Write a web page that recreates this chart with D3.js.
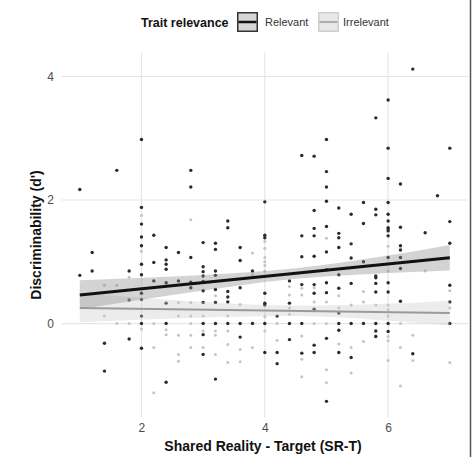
<!DOCTYPE html>
<html>
<head>
<meta charset="utf-8">
<script src="https://cdn.jsdelivr.net/npm/d3@7"></script>
<style>
  body { margin: 0; background: #fff; }
  text { font-family: "Liberation Sans", Arial, sans-serif; }
</style>
</head>
<body>
<div id="chart"></div>
<script>
// data: [SR-T, d']
var relevant = [
  [1.0, 2.17], [1.0, 0.78],
  [1.2, 1.15], [1.2, 0.85],
  [1.4, -0.32], [1.4, -0.77],
  [1.6, 2.48],
  [1.8, 0.85], [1.8, 0.38], [1.8, -0.25],
  [2.0, 2.98], [2.0, 1.88], [2.0, 1.61], [2.0, 1.40], [2.0, 1.26], [2.0, 0.96], [2.0, 0.79], [2.0, 0.49], [2.0, 0.39], [2.0, 0.12], [2.0, 0.0], [2.0, -0.40],
  [2.2, 1.43], [2.2, 0.99], [2.2, 0.69],
  [2.4, 1.23], [2.4, 1.03], [2.4, 0.96], [2.4, 0.88], [2.4, 0.66], [2.4, 0.33], [2.4, 0.0], [2.4, -0.95],
  [2.6, 1.15], [2.6, 0.69],
  [2.8, 2.48], [2.8, 2.21], [2.8, 1.07], [2.8, 0.67], [2.8, 0.58],
  [3.0, 1.31], [3.0, 0.92], [3.0, 0.84], [3.0, 0.77], [3.0, 0.68], [3.0, 0.53], [3.0, 0.34], [3.0, 0.0], [3.0, -0.18], [3.0, -0.50],
  [3.2, 1.30], [3.2, 1.20], [3.2, 0.85], [3.2, 0.78], [3.2, 0.55], [3.2, 0.34], [3.2, 0.0], [3.2, -0.90],
  [3.4, 1.66], [3.4, 1.55], [3.4, 0.52], [3.4, 0.43], [3.4, 0.35], [3.4, 0.0],
  [3.6, 1.23], [3.6, 1.02], [3.6, 0.58], [3.6, 0.0], [3.6, -0.22],
  [3.8, 0.85], [3.8, 0.0],
  [4.0, 1.97], [4.0, 1.43], [4.0, 1.39], [4.0, 0.49], [4.0, 0.33], [4.0, 0.30], [4.0, 0.0], [4.0, -0.47],
  [4.2, 0.12], [4.2, -0.47], [4.2, -0.65],
  [4.4, 0.69], [4.4, 0.33], [4.4, 0.0], [4.4, -0.26],
  [4.6, 2.72], [4.6, 1.42], [4.6, 1.08], [4.6, 0.63], [4.6, 0.0], [4.6, -0.48],
  [4.8, 2.71], [4.8, 1.83], [4.8, 1.54], [4.8, 1.42], [4.8, 1.09], [4.8, 0.63], [4.8, 0.49], [4.8, 0.23], [4.8, -0.35], [4.8, -0.47],
  [5.0, 2.98], [5.0, 2.46], [5.0, 2.21], [5.0, 1.98], [5.0, 1.57], [5.0, 1.16], [5.0, 0.87], [5.0, 0.66], [5.0, 0.50], [5.0, -0.24], [5.0, -1.26],
  [5.2, 1.87], [5.2, 1.46], [5.2, 1.39], [5.2, 1.23], [5.2, 0.79], [5.2, 0.57], [5.2, 0.17], [5.2, 0.0], [5.2, -0.11], [5.2, -0.47],
  [5.4, 1.77], [5.4, 1.29], [5.4, 1.06], [5.4, 0.65], [5.4, 0.0], [5.4, -0.55],
  [5.6, 1.96], [5.6, 1.62], [5.6, 1.0], [5.6, 0.0],
  [5.8, 3.33], [5.8, 1.85], [5.8, 1.76], [5.8, 0.77], [5.8, 0.74], [5.8, 0.65], [5.8, 0.51], [5.8, 0.0], [5.8, -0.12], [5.8, -0.21],
  [6.0, 3.62], [6.0, 2.84], [6.0, 2.35], [6.0, 1.96], [6.0, 1.77], [6.0, 1.66], [6.0, 1.55], [6.0, 1.53], [6.0, 1.50], [6.0, 1.42], [6.0, 1.07], [6.0, 0.66], [6.0, 0.51], [6.0, 0.0], [6.0, -0.13],
  [6.2, 2.26], [6.2, 1.56], [6.2, 1.26], [6.2, 1.19], [6.2, 1.07], [6.2, 0.89], [6.2, 0.36],
  [6.4, 4.12], [6.4, -0.49],
  [6.6, 1.47],
  [6.8, 2.07],
  [7.0, 2.84], [7.0, 1.65], [7.0, 1.30], [7.0, 0.62], [7.0, 0.35], [7.0, 0.0]
]

var irrelevant = [
  [1.4, 0.62], [1.4, 0.12],
  [1.6, 0.62], [1.6, 0.0],
  [1.8, 0.75], [1.8, 0.0],
  [2.0, 1.75], [2.0, 1.17], [2.0, -0.09],
  [2.2, 0.0], [2.2, -0.39], [2.2, -1.12],
  [2.4, -0.10], [2.4, -0.18],
  [2.6, 0.34], [2.6, 0.12], [2.6, -0.19], [2.6, -0.50], [2.6, -0.61],
  [2.8, 1.68], [2.8, 0.34], [2.8, 0.12], [2.8, 0.0], [2.8, -0.19], [2.8, -0.39],
  [3.0, 0.12], [3.0, -0.12], [3.0, -0.39],
  [3.2, 0.45], [3.2, -0.12], [3.2, -0.19], [3.2, -0.50],
  [3.4, 0.12], [3.4, -0.12], [3.4, -0.34], [3.4, -0.63],
  [3.6, 0.31], [3.6, -0.42], [3.6, -0.62],
  [3.8, 1.14], [3.8, 0.79], [3.8, -0.39],
  [4.0, 1.33], [4.0, 1.22], [4.0, 1.07], [4.0, 1.0], [4.0, 0.94], [4.0, 0.85], [4.0, 0.11], [4.0, -0.12],
  [4.2, 0.0], [4.2, -0.27],
  [4.4, 0.60], [4.4, 0.46], [4.4, 0.25], [4.4, 0.15],
  [4.6, 0.57], [4.6, 0.46], [4.6, -0.20], [4.6, -0.58], [4.6, -0.86],
  [4.8, 0.58], [4.8, 0.35], [4.8, 0.0],
  [5.0, 1.38], [5.0, 0.35], [5.0, 0.0], [5.0, -0.75], [5.0, -0.96],
  [5.2, 0.45], [5.2, 0.25], [5.2, -0.33],
  [5.4, 0.30], [5.4, -0.39], [5.4, -0.80],
  [5.6, 0.52], [5.6, 0.35], [5.6, -0.29],
  [5.8, 0.30], [5.8, -0.20],
  [6.0, 1.25], [6.0, 0.85], [6.0, 0.30], [6.0, 0.22], [6.0, 0.12], [6.0, -0.21], [6.0, -0.28], [6.0, -0.60],
  [6.2, 0.0], [6.2, -0.39], [6.2, -1.01],
  [6.4, -0.19], [6.4, -0.60],
  [6.6, 0.85],
  [7.0, 0.53], [7.0, 0.25], [7.0, -0.63]
]

// fitted lines and confidence bands
var fitX = [1, 7]
var relevantFit = [0.46, 1.065]
var irrelevantFit = [0.25, 0.17]
var bandX = [1, 2.5, 4.5, 6, 7]
var relevantLo = [0.23, 0.46, 0.725, 0.82, 0.86]
var relevantHi = [0.70, 0.76, 0.895, 1.10, 1.27]
var irrelevantLo = [0.02, 0.08, 0.12, 0.045, -0.03]
var irrelevantHi = [0.49, 0.38, 0.29, 0.32, 0.37]

var xTicks = [2, 4, 6]
var yTicks = [0, 2, 4]
var groups = ['Relevant', 'Irrelevant']

// svg dimensions
var w = 472,
    h = 457

var svg = d3.select('#chart')
    .append('svg')
    .attr('width', w)
    .attr('height', h)

// scale
var xscale = d3.scaleLinear()
    .domain([0.7, 7.3])
    .range([61.3, 468.3])

var yscale = d3.scaleLinear()
    .domain([-1.52, 4.39])
    .range([417.4, 52.4])

// grid
svg.append('g')
    .selectAll('line')
    .data(yTicks)
    .enter()
    .append('line')
    .attr('x1', xscale(0.7))
    .attr('x2', xscale(7.3))
    .attr('y1', d => yscale(d))
    .attr('y2', d => yscale(d))
    .attr('stroke', '#e6e6e6')
    .attr('stroke-width', 1.2)

svg.append('g')
    .selectAll('line')
    .data(xTicks)
    .enter()
    .append('line')
    .attr('x1', d => xscale(d))
    .attr('x2', d => xscale(d))
    .attr('y1', yscale(4.39))
    .attr('y2', yscale(-1.52))
    .attr('stroke', '#e6e6e6')
    .attr('stroke-width', 1.2)

// axis (labels only, no lines)
var xaxis = d3.axisBottom(xscale)
    .tickValues(xTicks)
    .tickFormat(d3.format('d'))
    .tickSize(0)
    .tickPadding(0)

var yaxis = d3.axisLeft(yscale)
    .tickValues(yTicks)
    .tickFormat(d3.format('d'))
    .tickSize(0)
    .tickPadding(0)

var gx = svg.append('g')
    .attr('transform', 'translate(0,423)')
    .call(xaxis)
gx.select('.domain').remove()
gx.selectAll('text').attr('font-size', 12).attr('fill', '#4d4d4d').attr('font-family', '"Liberation Sans", Arial, sans-serif')

var gy = svg.append('g')
    .attr('transform', 'translate(54,0)')
    .call(yaxis)
gy.select('.domain').remove()
gy.selectAll('text').attr('font-size', 12).attr('fill', '#4d4d4d').attr('font-family', '"Liberation Sans", Arial, sans-serif')

// points
svg.append('g')
    .selectAll('circle')
    .data(irrelevant)
    .enter()
    .append('circle')
    .attr('cx', d => xscale(d[0]))
    .attr('cy', d => yscale(d[1]))
    .attr('r', 1.5)
    .attr('fill', '#c4c4c4')

svg.append('g')
    .selectAll('circle')
    .data(relevant)
    .enter()
    .append('circle')
    .attr('cx', d => xscale(d[0]))
    .attr('cy', d => yscale(d[1]))
    .attr('r', 1.7)
    .attr('fill', '#2b2b2b')

// bands
var band = (lo, hi) => d3.area()
    .x((d, i) => xscale(bandX[i]))
    .y0((d, i) => yscale(lo[i]))
    .y1((d, i) => yscale(hi[i]))
    .curve(d3.curveMonotoneX)(bandX)

svg.append('path')
    .attr('d', band(irrelevantLo, irrelevantHi))
    .attr('fill', '#c8c8c8')
    .attr('fill-opacity', 0.35)

svg.append('path')
    .attr('d', band(relevantLo, relevantHi))
    .attr('fill', '#8c8c8c')
    .attr('fill-opacity', 0.38)

// fitted lines
var fit = ys => d3.line()
    .x((d, i) => xscale(fitX[i]))
    .y((d, i) => yscale(ys[i]))(fitX)

svg.append('path')
    .attr('d', fit(irrelevantFit))
    .attr('fill', 'none')
    .attr('stroke', '#9a9a9a')
    .attr('stroke-width', 2)

svg.append('path')
    .attr('d', fit(relevantFit))
    .attr('fill', 'none')
    .attr('stroke', '#111')
    .attr('stroke-width', 3)

// axis titles
svg.append('text')
    .text('Shared Reality - Target (SR-T)')
    .attr('x', 263)
    .attr('y', 451)
    .attr('text-anchor', 'middle')
    .attr('font-size', 14)
    .attr('font-weight', 'bold')
    .attr('fill', '#111')

svg.append('text')
    .text('Discriminability (d\')')
    .attr('transform', 'translate(41,235) rotate(-90)')
    .attr('text-anchor', 'middle')
    .attr('font-size', 14)
    .attr('font-weight', 'bold')
    .attr('fill', '#111')

// legend
svg.append('text')
    .text('Trait relevance')
    .attr('x', 141)
    .attr('y', 27)
    .attr('font-size', 12.5)
    .attr('font-weight', 'bold')
    .attr('fill', '#111')

var keyX = [237, 318]
var keyFill = ['#d6d6d6', '#e8e8e8']
var keyStroke = ['#333', '#cfcfcf']
var keyLine = ['#111', '#9a9a9a']
var keyText = [265, 343]

var key = svg.append('g')
    .selectAll('g')
    .data(groups)
    .enter()
    .append('g')

key.append('rect')
    .attr('x', (d, i) => keyX[i] + 0.75)
    .attr('y', 12.75)
    .attr('width', 19.5)
    .attr('height', 18.5)
    .attr('fill', (d, i) => keyFill[i])
    .attr('stroke', (d, i) => keyStroke[i])
    .attr('stroke-width', 1.5)

key.append('line')
    .attr('x1', (d, i) => keyX[i] + 1.5)
    .attr('x2', (d, i) => keyX[i] + 19.5)
    .attr('y1', 22)
    .attr('y2', 22)
    .attr('stroke', (d, i) => keyLine[i])
    .attr('stroke-width', (d, i) => i ? 1.5 : 2.5)

key.append('text')
    .text(d => d)
    .attr('x', (d, i) => keyText[i])
    .attr('y', 26)
    .attr('font-size', 11)
    .attr('fill', '#333')

// right edge border
svg.append('line')
    .attr('x1', 470.5)
    .attr('x2', 470.5)
    .attr('y1', 0)
    .attr('y2', h)
    .attr('stroke', '#555')
    .attr('stroke-width', 1.5)
</script>
</body>
</html>
